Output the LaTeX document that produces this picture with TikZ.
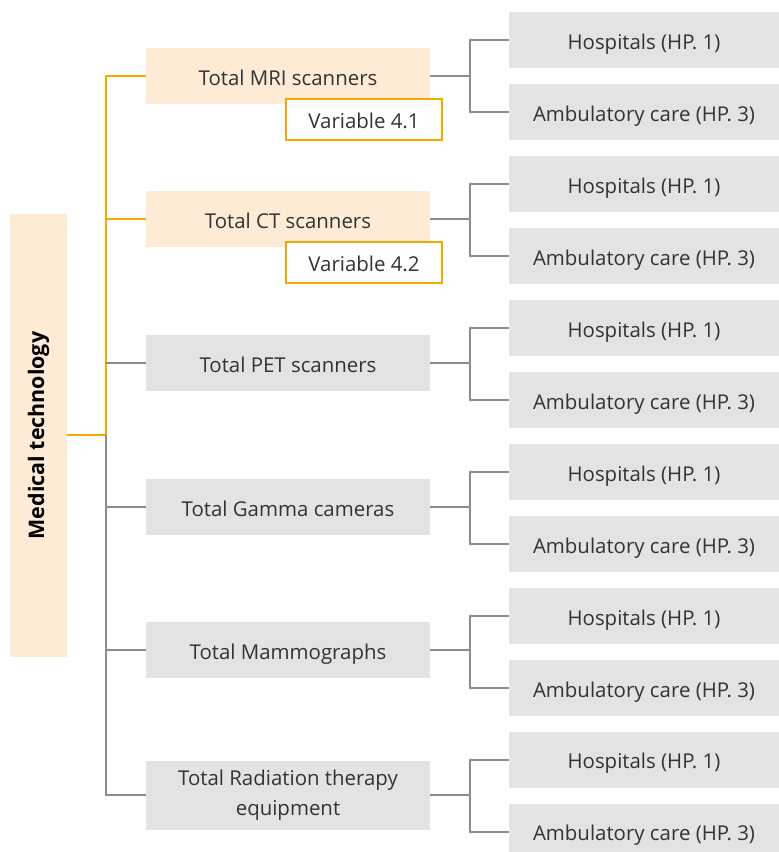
\documentclass[tikz,border=0pt]{standalone}
\usepackage{fontspec}
\setmainfont{Open Sans}
\begin{document}
\begin{tikzpicture}[x=1bp,y=-1bp,
  txt/.style={text=black!80, font=\fontsize{20.5}{30}\selectfont, inner sep=0pt, align=center},
  oneline/.style={txt, text height=18bp, text depth=0bp},
  rootbox/.style={fill=hilite, draw=none, minimum width=57bp, minimum height=443bp, inner sep=0pt},
  hibox/.style={oneline, fill=hilite, minimum width=284bp, minimum height=56bp},
  midbox/.style={oneline, fill=boxgray, minimum width=284bp, minimum height=56bp},
  twobox/.style={txt, fill=boxgray, minimum width=284bp, minimum height=69bp},
  leafbox/.style={oneline, fill=boxgray, minimum width=270bp, minimum height=56bp},
  varbox/.style={oneline, fill=white, draw=accent, line width=2bp, minimum width=156bp, minimum height=41bp},
  hotline/.style={draw=accent, line width=2bp},
  link/.style={draw=linegray, line width=2bp}
]
\definecolor{accent}{HTML}{F5A800}
\definecolor{hilite}{HTML}{FDEBD5}
\definecolor{boxgray}{HTML}{E3E3E3}
\definecolor{linegray}{HTML}{8C8C8C}
\useasboundingbox (0,0) rectangle (779,852);

% root
\node[rootbox] (root) at (38.5,435.5) {};
\node[rotate=90, font=\bfseries\fontsize{21.5}{26}\selectfont, text=black] (roottxt) at (root.center) {Medical technology};

% second level
\node[hibox] (mri) at (288,76) {Total MRI scanners};
\node[hibox] (ct) at (288,219) {Total CT scanners};
\node[midbox] (pet) at (288,363) {Total PET scanners};
\node[midbox] (gam) at (288,507) {Total Gamma cameras};
\node[midbox] (mam) at (288,650) {Total Mammographs};
\node[twobox] (rad) at (288,795) {Total Radiation therapy\\equipment};

% variable tags
\node[varbox] (v1) at (364,119.5) {Variable 4.1};
\node[varbox] (v2) at (364,262.5) {Variable 4.2};

% spine
\coordinate (sp) at (106,435);
\draw[hotline] (root.east |- sp) -- (sp);
\draw[hotline] (sp) -- (sp |- mri.west) -- (mri.west);
\draw[hotline] (ct.west) -- (ct.west -| sp);
\draw[link] (sp) -- (sp |- rad.west) -- (rad.west);
\draw[link] (pet.west) -- (pet.west -| sp);
\draw[link] (gam.west) -- (gam.west -| sp);
\draw[link] (mam.west) -- (mam.west -| sp);

% leaves
\foreach \name/\yh/\ya in {mri/40/112, ct/184/256, pet/328/400, gam/472/544, mam/616/688, rad/759.5/831.5}{
  \node[leafbox] (\name h) at (644,\yh) {Hospitals (HP. 1)};
  \node[leafbox] (\name a) at (644,\ya) {Ambulatory care (HP. 3)};
  \coordinate (\name j) at (470,0);
  \draw[link] (\name.east) -- (\name.east -| \name j);
  \draw[link] (\name h.west) -- (\name h.west -| \name j) -- (\name a.west -| \name j) -- (\name a.west);
}
\end{tikzpicture}
\end{document}
